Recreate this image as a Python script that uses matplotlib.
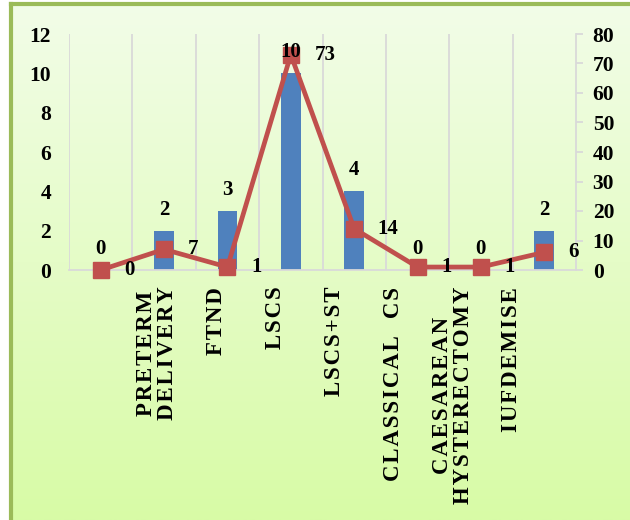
import numpy as np
import matplotlib
matplotlib.use("Agg")
import matplotlib.pyplot as plt
from matplotlib.colors import LinearSegmentedColormap

# data
categories = ["", "PRETERM\nDELIVERY", "FTND", "LSCS", "LSCS+ST",
              "CLASSICAL  CS", "CAESAREAN\nHYSTERECTOMY", "IUFDEMISE"]
bar_values = [0, 2, 3, 10, 4, 0, 0, 2]
line_values = [0, 7, 1, 73, 14, 1, 1, 6]

plt.rcParams['font.family'] = ['Liberation Serif', 'DejaVu Serif']
plt.rcParams['font.weight'] = 'bold'

W, H = 630, 520
fig = plt.figure(figsize=(W / 100, H / 100), dpi=100)
fig.patch.set_facecolor('white')

# gradient background box with green border
bg = fig.add_axes([11 / W, 0, 1 - 11 / W, 1 - 4 / H])
grad = np.linspace(0, 1, 256).reshape(-1, 1)
cmap = LinearSegmentedColormap.from_list('bg', ['#f2fde8', '#d8fba6'])
bg.imshow(grad, aspect='auto', cmap=cmap, extent=[0, 1, 0, 1], origin='upper')
bg.set_xticks([])
bg.set_yticks([])
for s in ['right', 'bottom']:
    bg.spines[s].set_visible(False)
for s in ['left', 'top']:
    bg.spines[s].set_color('#9bbb59')
    bg.spines[s].set_linewidth(3)

# main axes
ax = fig.add_axes([69 / W, 1 - 270 / H, 507 / W, 236 / H])
ax.patch.set_visible(False)
x = np.arange(len(categories))
ax.bar(x, bar_values, width=0.31, color='#4f81bd', zorder=2)
ax.set_xlim(-0.5, len(categories) - 0.5)
ax.set_ylim(0, 12)
ax.set_yticks(range(0, 13, 2))
ax.set_xticks([])
for b in np.arange(-0.5, len(categories) - 0.5):
    ax.axvline(b, color='#d9d9d9', lw=1.3, zorder=0)
for s in ['top', 'left', 'right']:
    ax.spines[s].set_visible(False)
ax.spines['bottom'].set_color('#d9d9d9')
ax.spines['bottom'].set_linewidth(1.3)
ax.tick_params(axis='y', length=0, pad=13, labelsize=15.5)

ax2 = ax.twinx()
ax2.plot(x, line_values, color='#c0504d', lw=3.4, marker='s', ms=12,
         zorder=3, clip_on=False)
ax2.set_ylim(0, 80)
ax2.set_yticks(range(0, 81, 10))
for s in ['top', 'left', 'bottom']:
    ax2.spines[s].set_visible(False)
ax2.spines['right'].set_color('#d9d9d9')
ax2.spines['right'].set_linewidth(1.3)
ax2.tick_params(axis='y', length=5, width=1.3, color='#d9d9d9', pad=7, labelsize=15.5)

# data labels
for i, v in enumerate(bar_values):
    ax2.annotate(str(v), xy=(i, v), xycoords=ax.transData, xytext=(0, 8),
                 textcoords='offset points', ha='center', va='bottom',
                 fontsize=15, zorder=5)
for i, v in enumerate(line_values):
    ax2.annotate(str(v), xy=(i, v), xytext=(17, 0), textcoords='offset points',
                 ha='left', va='center', fontsize=15, zorder=5)

# category labels (letter spaced, rotated)
label_step = 0.932
for i, c in enumerate(categories):
    spaced = '\n'.join('\u200a'.join(line) for line in c.split('\n'))
    ax.annotate(spaced, xy=(i * label_step - 0.04, 0),
                xycoords=('data', 'axes fraction'), xytext=(0, -12),
                textcoords='offset points', rotation=90, ha='center', va='top',
                multialignment='center', fontsize=16.5, linespacing=1.0,
                annotation_clip=False)

fig.savefig('out.png', dpi=100)
